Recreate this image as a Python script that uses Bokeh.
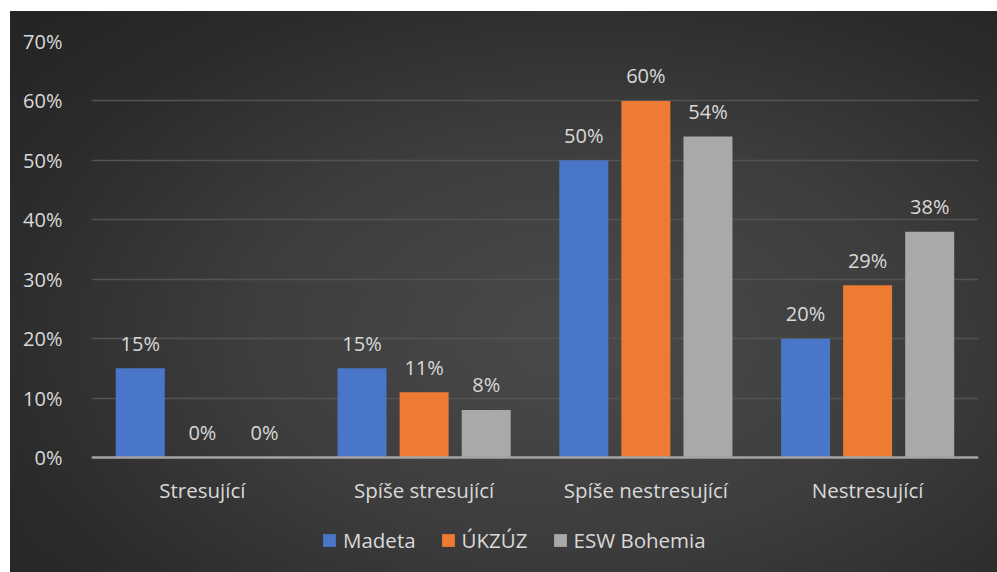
from bokeh.plotting import figure
from bokeh.models import (ColumnDataSource, FactorRange, Range1d, Legend, LegendItem,
                          NumeralTickFormatter, FixedTicker, Span)
from bokeh.transform import dodge
from bokeh.core.properties import value
from bokeh.embed import file_html
from bokeh.resources import INLINE

categories = ["Stresující", "Spíše stresující", "Spíše nestresující", "Nestresující"]
series_names = ["Madeta", "ÚKZÚZ", "ESW Bohemia"]
madeta = [0.15, 0.15, 0.50, 0.20]
ukzuz = [0.00, 0.11, 0.60, 0.29]
esw_bohemia = [0.00, 0.08, 0.54, 0.38]
y_ticks = [0.0, 0.1, 0.2, 0.3, 0.4, 0.5, 0.6, 0.7]

series_values = [madeta, ukzuz, esw_bohemia]
colors = ["#4a76c9", "#ee7b33", "#a9a9a9"]
offsets = [-0.28, 0.0, 0.28]

FONT = "Open Sans"
TXT = "#d9d9d9"

Y_MAX = 0.7
# extra room below the zero line (115px of a 416px 0..70% span) for category labels + legend
Y_MIN = -Y_MAX * 115 / 416

p = figure(
    x_range=FactorRange(*categories),
    y_range=Range1d(Y_MIN, Y_MAX),
    width=987, height=561,
    output_backend="svg", toolbar_location=None,
    x_axis_location=None,
    min_border_left=81, min_border_right=19, min_border_top=30, min_border_bottom=0,
    border_fill_color=None, background_fill_color=None, outline_line_color=None,
    margin=(11, 0, 0, 10),
    styles={"background": "radial-gradient(ellipse 75% 80% at 58% 58%, #4a4a4a 0%, #3d3d3d 45%, #2b2b2b 80%, #252525 100%)"},
)

p.yaxis.ticker = FixedTicker(ticks=y_ticks)
p.yaxis.formatter = NumeralTickFormatter(format="0%")
p.yaxis.axis_line_color = None
p.yaxis.major_tick_line_color = None
p.yaxis.minor_tick_line_color = None
p.yaxis.major_label_standoff = 23
p.yaxis.major_label_text_font = FONT
p.yaxis.major_label_text_font_size = "20px"
p.yaxis.major_label_text_color = TXT

p.xgrid.grid_line_color = None
p.ygrid.grid_line_color = "#535353"
p.ygrid.grid_line_width = 1.5

p.add_layout(Span(location=0, dimension="width", line_color="#a3a3a3", line_width=2.5))

items = []
for name, vals, col, off in zip(series_names, series_values, colors, offsets):
    src = ColumnDataSource(dict(cat=categories, val=vals, lab=[f"{round(v * 100)}%" for v in vals]))
    r = p.vbar(x=dodge("cat", off, range=p.x_range), top="val", bottom=0, width=0.221, source=src,
               fill_color=col, line_color=None)
    p.text(x=dodge("cat", off, range=p.x_range), y="val", text="lab", source=src,
           text_font=value(FONT), text_font_size="20px", text_color=TXT,
           text_align="center", text_baseline="middle", y_offset=-25)
    items.append(LegendItem(label=name, renderers=[r]))

# category labels under the zero line
cat_src = ColumnDataSource(dict(cat=categories, base=[0] * len(categories)))
p.text(x="cat", y="base", text="cat", source=cat_src,
       text_font=value(FONT), text_font_size="20.5px", text_color=TXT,
       text_align="center", text_baseline="middle", y_offset=32)

legend = Legend(items=items, orientation="horizontal", location=(230, 18),
                glyph_width=16, glyph_height=16, label_height=20, label_standoff=6,
                spacing=24, padding=0, margin=0,
                label_text_font=FONT, label_text_font_size="20.5px", label_text_color=TXT,
                background_fill_alpha=0, border_line_color=None)
p.add_layout(legend, "center")

open("out.html", "w").write(file_html(p, INLINE))
